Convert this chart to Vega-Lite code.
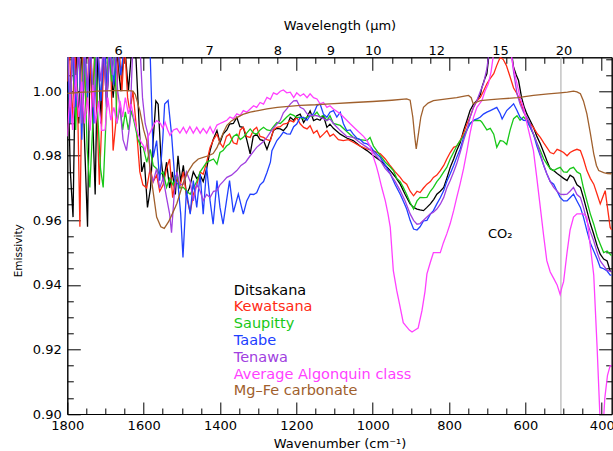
{
"$schema": "https://vega.github.io/schema/vega-lite/v6.json",
"width": 544.4, "height": 356.7,
"autosize": {"type": "none"},
"padding": {"left": 67.3, "top": 57.3, "right": 1.3, "bottom": 37},
"background": "white",
"config": {
  "view": {"stroke": "black", "strokeWidth": 1},
  "font": "DejaVu Sans",
  "axis": {"domainColor": "black", "tickColor": "black", "labelColor": "black", "titleColor": "black", "labelFont": "DejaVu Sans", "titleFont": "DejaVu Sans", "labelFontSize": 13, "titleFontSize": 13, "titleFontWeight": "normal", "grid": false, "tickWidth": 1, "domainWidth": 1, "labelFlush": false, "labelOverlap": false}
},
"resolve": {"axis": {"x": "independent", "y": "independent"}},
"data": {"values": [
{"s":"Ditsakana","w":1800,"e":1.012},{"s":"Ditsakana","w":1792,"e":0.975},{"s":"Ditsakana","w":1785,"e":0.961},{"s":"Ditsakana","w":1778,"e":1.015},{"s":"Ditsakana","w":1770,"e":0.99},{"s":"Ditsakana","w":1762,"e":1.015},{"s":"Ditsakana","w":1755,"e":0.985},{"s":"Ditsakana","w":1747,"e":0.958},{"s":"Ditsakana","w":1740,"e":1.015},{"s":"Ditsakana","w":1733,"e":0.99},{"s":"Ditsakana","w":1727,"e":0.968},{"s":"Ditsakana","w":1720,"e":1.015},{"s":"Ditsakana","w":1712,"e":0.99},{"s":"Ditsakana","w":1705,"e":1.015},{"s":"Ditsakana","w":1697,"e":0.995},{"s":"Ditsakana","w":1690,"e":1.015},{"s":"Ditsakana","w":1680,"e":0.998},{"s":"Ditsakana","w":1670,"e":1.012},{"s":"Ditsakana","w":1660,"e":1.0},{"s":"Ditsakana","w":1650,"e":1.015},{"s":"Ditsakana","w":1640,"e":1.0},{"s":"Ditsakana","w":1630,"e":1.015},{"s":"Ditsakana","w":1620,"e":1.01},{"s":"Ditsakana","w":1612,"e":0.99},{"s":"Ditsakana","w":1605,"e":0.975},{"s":"Ditsakana","w":1598,"e":0.978},{"s":"Ditsakana","w":1590,"e":0.964},{"s":"Ditsakana","w":1582,"e":0.97},{"s":"Ditsakana","w":1575,"e":0.985},{"s":"Ditsakana","w":1568,"e":0.997},{"s":"Ditsakana","w":1562,"e":0.996},{"s":"Ditsakana","w":1555,"e":0.98},{"s":"Ditsakana","w":1548,"e":0.972},{"s":"Ditsakana","w":1540,"e":0.978},{"s":"Ditsakana","w":1532,"e":0.97},{"s":"Ditsakana","w":1525,"e":0.975},{"s":"Ditsakana","w":1517,"e":0.968},{"s":"Ditsakana","w":1510,"e":0.98},{"s":"Ditsakana","w":1503,"e":0.972},{"s":"Ditsakana","w":1496,"e":0.977},{"s":"Ditsakana","w":1488,"e":0.968},{"s":"Ditsakana","w":1480,"e":0.97},{"s":"Ditsakana","w":1470,"e":0.975},{"s":"Ditsakana","w":1461,"e":0.973},{"s":"Ditsakana","w":1452,"e":0.974},{"s":"Ditsakana","w":1444,"e":0.972},{"s":"Ditsakana","w":1435,"e":0.976},{"s":"Ditsakana","w":1426,"e":0.9816},{"s":"Ditsakana","w":1418,"e":0.985},{"s":"Ditsakana","w":1408,"e":0.9878},{"s":"Ditsakana","w":1400,"e":0.984},{"s":"Ditsakana","w":1392,"e":0.9867},{"s":"Ditsakana","w":1382,"e":0.988},{"s":"Ditsakana","w":1375,"e":0.9898},{"s":"Ditsakana","w":1365,"e":0.99},{"s":"Ditsakana","w":1356,"e":0.9919},{"s":"Ditsakana","w":1348,"e":0.989},{"s":"Ditsakana","w":1339,"e":0.9888},{"s":"Ditsakana","w":1330,"e":0.985},{"s":"Ditsakana","w":1321,"e":0.9806},{"s":"Ditsakana","w":1313,"e":0.986},{"s":"Ditsakana","w":1304,"e":0.9867},{"s":"Ditsakana","w":1295,"e":0.985},{"s":"Ditsakana","w":1286,"e":0.9847},{"s":"Ditsakana","w":1277,"e":0.982},{"s":"Ditsakana","w":1268,"e":0.985},{"s":"Ditsakana","w":1260,"e":0.9878},{"s":"Ditsakana","w":1251,"e":0.9885},{"s":"Ditsakana","w":1242,"e":0.9883},{"s":"Ditsakana","w":1234,"e":0.9878},{"s":"Ditsakana","w":1225,"e":0.989},{"s":"Ditsakana","w":1216,"e":0.9919},{"s":"Ditsakana","w":1207,"e":0.991},{"s":"Ditsakana","w":1199,"e":0.9924},{"s":"Ditsakana","w":1190,"e":0.9929},{"s":"Ditsakana","w":1181,"e":0.9903},{"s":"Ditsakana","w":1172,"e":0.992},{"s":"Ditsakana","w":1164,"e":0.9939},{"s":"Ditsakana","w":1155,"e":0.9909},{"s":"Ditsakana","w":1146,"e":0.9914},{"s":"Ditsakana","w":1138,"e":0.991},{"s":"Ditsakana","w":1129,"e":0.9924},{"s":"Ditsakana","w":1120,"e":0.9888},{"s":"Ditsakana","w":1112,"e":0.9898},{"s":"Ditsakana","w":1103,"e":0.9885},{"s":"Ditsakana","w":1085,"e":0.9867},{"s":"Ditsakana","w":1068,"e":0.9855},{"s":"Ditsakana","w":1051,"e":0.9847},{"s":"Ditsakana","w":1033,"e":0.983},{"s":"Ditsakana","w":1015,"e":0.9816},{"s":"Ditsakana","w":998,"e":0.98},{"s":"Ditsakana","w":980,"e":0.9785},{"s":"Ditsakana","w":967,"e":0.977},{"s":"Ditsakana","w":954,"e":0.9754},{"s":"Ditsakana","w":941,"e":0.9735},{"s":"Ditsakana","w":928,"e":0.9712},{"s":"Ditsakana","w":915,"e":0.968},{"s":"Ditsakana","w":902,"e":0.9651},{"s":"Ditsakana","w":893,"e":0.964},{"s":"Ditsakana","w":884,"e":0.9635},{"s":"Ditsakana","w":876,"e":0.9632},{"s":"Ditsakana","w":867,"e":0.963},{"s":"Ditsakana","w":858,"e":0.964},{"s":"Ditsakana","w":849,"e":0.9651},{"s":"Ditsakana","w":840,"e":0.9665},{"s":"Ditsakana","w":832,"e":0.9681},{"s":"Ditsakana","w":823,"e":0.969},{"s":"Ditsakana","w":814,"e":0.9702},{"s":"Ditsakana","w":806,"e":0.973},{"s":"Ditsakana","w":797,"e":0.9764},{"s":"Ditsakana","w":788,"e":0.979},{"s":"Ditsakana","w":780,"e":0.9816},{"s":"Ditsakana","w":771,"e":0.984},{"s":"Ditsakana","w":762,"e":0.9878},{"s":"Ditsakana","w":753,"e":0.991},{"s":"Ditsakana","w":745,"e":0.994},{"s":"Ditsakana","w":736,"e":0.996},{"s":"Ditsakana","w":727,"e":0.9971},{"s":"Ditsakana","w":718,"e":0.999},{"s":"Ditsakana","w":714,"e":1.0012},{"s":"Ditsakana","w":706,"e":1.004},{"s":"Ditsakana","w":701,"e":1.0054},{"s":"Ditsakana","w":692,"e":1.015},{"s":"Ditsakana","w":640,"e":1.015},{"s":"Ditsakana","w":631,"e":1.0074},{"s":"Ditsakana","w":624,"e":1.005},{"s":"Ditsakana","w":618,"e":1.0033},{"s":"Ditsakana","w":610,"e":0.998},{"s":"Ditsakana","w":603,"e":0.995},{"s":"Ditsakana","w":596,"e":0.9929},{"s":"Ditsakana","w":588,"e":0.991},{"s":"Ditsakana","w":579,"e":0.9888},{"s":"Ditsakana","w":570,"e":0.986},{"s":"Ditsakana","w":561,"e":0.9837},{"s":"Ditsakana","w":552,"e":0.981},{"s":"Ditsakana","w":544,"e":0.9785},{"s":"Ditsakana","w":535,"e":0.976},{"s":"Ditsakana","w":526,"e":0.9754},{"s":"Ditsakana","w":517,"e":0.9745},{"s":"Ditsakana","w":509,"e":0.9738},{"s":"Ditsakana","w":500,"e":0.973},{"s":"Ditsakana","w":491,"e":0.9723},{"s":"Ditsakana","w":483,"e":0.974},{"s":"Ditsakana","w":474,"e":0.9733},{"s":"Ditsakana","w":465,"e":0.971},{"s":"Ditsakana","w":456,"e":0.9702},{"s":"Ditsakana","w":448,"e":0.967},{"s":"Ditsakana","w":439,"e":0.963},{"s":"Ditsakana","w":430,"e":0.959},{"s":"Ditsakana","w":421,"e":0.9557},{"s":"Ditsakana","w":412,"e":0.952},{"s":"Ditsakana","w":404,"e":0.9495},{"s":"Ditsakana","w":395,"e":0.948},{"s":"Ditsakana","w":386,"e":0.9474},{"s":"Ditsakana","w":378,"e":0.9443},{"s":"Ditsakana","w":374,"e":0.944},
{"s":"Kewatsana","w":1800,"e":1.003},{"s":"Kewatsana","w":1795,"e":1.015},{"s":"Kewatsana","w":1787,"e":0.99},{"s":"Kewatsana","w":1780,"e":1.015},{"s":"Kewatsana","w":1772,"e":0.99},{"s":"Kewatsana","w":1767,"e":0.958},{"s":"Kewatsana","w":1760,"e":1.015},{"s":"Kewatsana","w":1750,"e":0.993},{"s":"Kewatsana","w":1742,"e":1.015},{"s":"Kewatsana","w":1735,"e":0.995},{"s":"Kewatsana","w":1727,"e":1.015},{"s":"Kewatsana","w":1720,"e":0.985},{"s":"Kewatsana","w":1716,"e":0.971},{"s":"Kewatsana","w":1710,"e":0.99},{"s":"Kewatsana","w":1703,"e":1.015},{"s":"Kewatsana","w":1695,"e":1.0},{"s":"Kewatsana","w":1688,"e":1.015},{"s":"Kewatsana","w":1680,"e":0.9816},{"s":"Kewatsana","w":1673,"e":0.99},{"s":"Kewatsana","w":1665,"e":1.015},{"s":"Kewatsana","w":1657,"e":1.0},{"s":"Kewatsana","w":1650,"e":1.015},{"s":"Kewatsana","w":1642,"e":0.998},{"s":"Kewatsana","w":1636,"e":0.9936},{"s":"Kewatsana","w":1628,"e":1.0},{"s":"Kewatsana","w":1620,"e":0.99},{"s":"Kewatsana","w":1610,"e":0.975},{"s":"Kewatsana","w":1602,"e":0.971},{"s":"Kewatsana","w":1592,"e":0.97},{"s":"Kewatsana","w":1583,"e":0.976},{"s":"Kewatsana","w":1575,"e":0.972},{"s":"Kewatsana","w":1566,"e":0.974},{"s":"Kewatsana","w":1558,"e":0.969},{"s":"Kewatsana","w":1549,"e":0.971},{"s":"Kewatsana","w":1540,"e":0.976},{"s":"Kewatsana","w":1532,"e":0.979},{"s":"Kewatsana","w":1524,"e":0.967},{"s":"Kewatsana","w":1515,"e":0.974},{"s":"Kewatsana","w":1506,"e":0.97},{"s":"Kewatsana","w":1496,"e":0.975},{"s":"Kewatsana","w":1487,"e":0.967},{"s":"Kewatsana","w":1478,"e":0.9624},{"s":"Kewatsana","w":1470,"e":0.968},{"s":"Kewatsana","w":1461,"e":0.971},{"s":"Kewatsana","w":1452,"e":0.975},{"s":"Kewatsana","w":1444,"e":0.9743},{"s":"Kewatsana","w":1435,"e":0.978},{"s":"Kewatsana","w":1426,"e":0.9826},{"s":"Kewatsana","w":1417,"e":0.985},{"s":"Kewatsana","w":1408,"e":0.9867},{"s":"Kewatsana","w":1400,"e":0.984},{"s":"Kewatsana","w":1392,"e":0.9826},{"s":"Kewatsana","w":1383,"e":0.986},{"s":"Kewatsana","w":1375,"e":0.9867},{"s":"Kewatsana","w":1365,"e":0.984},{"s":"Kewatsana","w":1356,"e":0.9836},{"s":"Kewatsana","w":1347,"e":0.988},{"s":"Kewatsana","w":1339,"e":0.9888},{"s":"Kewatsana","w":1330,"e":0.986},{"s":"Kewatsana","w":1321,"e":0.9857},{"s":"Kewatsana","w":1312,"e":0.988},{"s":"Kewatsana","w":1304,"e":0.9888},{"s":"Kewatsana","w":1295,"e":0.986},{"s":"Kewatsana","w":1286,"e":0.9857},{"s":"Kewatsana","w":1277,"e":0.985},{"s":"Kewatsana","w":1268,"e":0.9847},{"s":"Kewatsana","w":1260,"e":0.988},{"s":"Kewatsana","w":1251,"e":0.9888},{"s":"Kewatsana","w":1242,"e":0.989},{"s":"Kewatsana","w":1234,"e":0.9898},{"s":"Kewatsana","w":1225,"e":0.99},{"s":"Kewatsana","w":1216,"e":0.9909},{"s":"Kewatsana","w":1207,"e":0.9905},{"s":"Kewatsana","w":1199,"e":0.9919},{"s":"Kewatsana","w":1190,"e":0.9899},{"s":"Kewatsana","w":1181,"e":0.9888},{"s":"Kewatsana","w":1172,"e":0.9883},{"s":"Kewatsana","w":1164,"e":0.9893},{"s":"Kewatsana","w":1155,"e":0.987},{"s":"Kewatsana","w":1146,"e":0.9878},{"s":"Kewatsana","w":1138,"e":0.9857},{"s":"Kewatsana","w":1129,"e":0.9867},{"s":"Kewatsana","w":1120,"e":0.9878},{"s":"Kewatsana","w":1112,"e":0.986},{"s":"Kewatsana","w":1103,"e":0.9867},{"s":"Kewatsana","w":1090,"e":0.985},{"s":"Kewatsana","w":1077,"e":0.9847},{"s":"Kewatsana","w":1064,"e":0.985},{"s":"Kewatsana","w":1051,"e":0.9842},{"s":"Kewatsana","w":1033,"e":0.983},{"s":"Kewatsana","w":1015,"e":0.9821},{"s":"Kewatsana","w":998,"e":0.9815},{"s":"Kewatsana","w":980,"e":0.9806},{"s":"Kewatsana","w":967,"e":0.979},{"s":"Kewatsana","w":954,"e":0.9769},{"s":"Kewatsana","w":941,"e":0.975},{"s":"Kewatsana","w":928,"e":0.9733},{"s":"Kewatsana","w":920,"e":0.972},{"s":"Kewatsana","w":911,"e":0.9712},{"s":"Kewatsana","w":902,"e":0.969},{"s":"Kewatsana","w":893,"e":0.9676},{"s":"Kewatsana","w":884,"e":0.969},{"s":"Kewatsana","w":876,"e":0.9686},{"s":"Kewatsana","w":867,"e":0.97},{"s":"Kewatsana","w":858,"e":0.9712},{"s":"Kewatsana","w":849,"e":0.972},{"s":"Kewatsana","w":841,"e":0.9733},{"s":"Kewatsana","w":832,"e":0.974},{"s":"Kewatsana","w":823,"e":0.9754},{"s":"Kewatsana","w":814,"e":0.977},{"s":"Kewatsana","w":806,"e":0.979},{"s":"Kewatsana","w":797,"e":0.981},{"s":"Kewatsana","w":788,"e":0.9826},{"s":"Kewatsana","w":780,"e":0.983},{"s":"Kewatsana","w":771,"e":0.9847},{"s":"Kewatsana","w":762,"e":0.987},{"s":"Kewatsana","w":753,"e":0.9899},{"s":"Kewatsana","w":745,"e":0.992},{"s":"Kewatsana","w":736,"e":0.995},{"s":"Kewatsana","w":727,"e":0.997},{"s":"Kewatsana","w":718,"e":0.9981},{"s":"Kewatsana","w":710,"e":1.0},{"s":"Kewatsana","w":701,"e":1.0023},{"s":"Kewatsana","w":692,"e":1.004},{"s":"Kewatsana","w":683,"e":1.0054},{"s":"Kewatsana","w":675,"e":1.008},{"s":"Kewatsana","w":666,"e":1.0105},{"s":"Kewatsana","w":658,"e":1.0098},{"s":"Kewatsana","w":650,"e":1.008},{"s":"Kewatsana","w":640,"e":1.0044},{"s":"Kewatsana","w":631,"e":1.001},{"s":"Kewatsana","w":622,"e":0.9992},{"s":"Kewatsana","w":614,"e":0.997},{"s":"Kewatsana","w":605,"e":0.994},{"s":"Kewatsana","w":596,"e":0.991},{"s":"Kewatsana","w":588,"e":0.99},{"s":"Kewatsana","w":579,"e":0.9888},{"s":"Kewatsana","w":570,"e":0.987},{"s":"Kewatsana","w":561,"e":0.9857},{"s":"Kewatsana","w":552,"e":0.984},{"s":"Kewatsana","w":544,"e":0.9826},{"s":"Kewatsana","w":535,"e":0.981},{"s":"Kewatsana","w":526,"e":0.9806},{"s":"Kewatsana","w":517,"e":0.982},{"s":"Kewatsana","w":509,"e":0.9816},{"s":"Kewatsana","w":500,"e":0.981},{"s":"Kewatsana","w":491,"e":0.98},{"s":"Kewatsana","w":483,"e":0.981},{"s":"Kewatsana","w":474,"e":0.9816},{"s":"Kewatsana","w":465,"e":0.982},{"s":"Kewatsana","w":456,"e":0.9816},{"s":"Kewatsana","w":448,"e":0.979},{"s":"Kewatsana","w":439,"e":0.9754},{"s":"Kewatsana","w":430,"e":0.973},{"s":"Kewatsana","w":421,"e":0.9712},{"s":"Kewatsana","w":412,"e":0.968},{"s":"Kewatsana","w":404,"e":0.9651},{"s":"Kewatsana","w":398,"e":0.967},{"s":"Kewatsana","w":391,"e":0.9692},{"s":"Kewatsana","w":384,"e":0.963},{"s":"Kewatsana","w":378,"e":0.9578},{"s":"Kewatsana","w":374,"e":0.957},
{"s":"Saupitty","w":1800,"e":1.015},{"s":"Saupitty","w":1793,"e":0.99},{"s":"Saupitty","w":1786,"e":1.015},{"s":"Saupitty","w":1778,"e":0.988},{"s":"Saupitty","w":1771,"e":1.015},{"s":"Saupitty","w":1763,"e":0.995},{"s":"Saupitty","w":1756,"e":1.015},{"s":"Saupitty","w":1748,"e":0.982},{"s":"Saupitty","w":1741,"e":0.9702},{"s":"Saupitty","w":1734,"e":0.988},{"s":"Saupitty","w":1727,"e":1.015},{"s":"Saupitty","w":1720,"e":0.992},{"s":"Saupitty","w":1713,"e":0.976},{"s":"Saupitty","w":1706,"e":0.9702},{"s":"Saupitty","w":1699,"e":0.99},{"s":"Saupitty","w":1692,"e":1.015},{"s":"Saupitty","w":1684,"e":1.003},{"s":"Saupitty","w":1677,"e":1.015},{"s":"Saupitty","w":1670,"e":0.99},{"s":"Saupitty","w":1662,"e":0.995},{"s":"Saupitty","w":1655,"e":0.988},{"s":"Saupitty","w":1648,"e":0.9936},{"s":"Saupitty","w":1640,"e":0.988},{"s":"Saupitty","w":1632,"e":0.994},{"s":"Saupitty","w":1624,"e":0.99},{"s":"Saupitty","w":1615,"e":0.985},{"s":"Saupitty","w":1608,"e":0.983},{"s":"Saupitty","w":1601,"e":0.9826},{"s":"Saupitty","w":1592,"e":0.978},{"s":"Saupitty","w":1583,"e":0.982},{"s":"Saupitty","w":1575,"e":0.977},{"s":"Saupitty","w":1566,"e":0.976},{"s":"Saupitty","w":1558,"e":0.974},{"s":"Saupitty","w":1549,"e":0.975},{"s":"Saupitty","w":1540,"e":0.9702},{"s":"Saupitty","w":1532,"e":0.973},{"s":"Saupitty","w":1523,"e":0.971},{"s":"Saupitty","w":1513,"e":0.9743},{"s":"Saupitty","w":1505,"e":0.97},{"s":"Saupitty","w":1496,"e":0.9702},{"s":"Saupitty","w":1487,"e":0.969},{"s":"Saupitty","w":1478,"e":0.9681},{"s":"Saupitty","w":1470,"e":0.97},{"s":"Saupitty","w":1461,"e":0.972},{"s":"Saupitty","w":1452,"e":0.975},{"s":"Saupitty","w":1444,"e":0.9764},{"s":"Saupitty","w":1435,"e":0.978},{"s":"Saupitty","w":1426,"e":0.9785},{"s":"Saupitty","w":1417,"e":0.979},{"s":"Saupitty","w":1408,"e":0.9774},{"s":"Saupitty","w":1400,"e":0.981},{"s":"Saupitty","w":1392,"e":0.9816},{"s":"Saupitty","w":1383,"e":0.983},{"s":"Saupitty","w":1375,"e":0.9837},{"s":"Saupitty","w":1365,"e":0.986},{"s":"Saupitty","w":1356,"e":0.9867},{"s":"Saupitty","w":1347,"e":0.985},{"s":"Saupitty","w":1339,"e":0.9857},{"s":"Saupitty","w":1330,"e":0.987},{"s":"Saupitty","w":1321,"e":0.9883},{"s":"Saupitty","w":1312,"e":0.987},{"s":"Saupitty","w":1304,"e":0.9867},{"s":"Saupitty","w":1295,"e":0.988},{"s":"Saupitty","w":1286,"e":0.9888},{"s":"Saupitty","w":1277,"e":0.988},{"s":"Saupitty","w":1268,"e":0.9878},{"s":"Saupitty","w":1260,"e":0.989},{"s":"Saupitty","w":1251,"e":0.9903},{"s":"Saupitty","w":1242,"e":0.99},{"s":"Saupitty","w":1234,"e":0.9909},{"s":"Saupitty","w":1225,"e":0.992},{"s":"Saupitty","w":1216,"e":0.9929},{"s":"Saupitty","w":1207,"e":0.9925},{"s":"Saupitty","w":1199,"e":0.9919},{"s":"Saupitty","w":1190,"e":0.9919},{"s":"Saupitty","w":1181,"e":0.9914},{"s":"Saupitty","w":1172,"e":0.992},{"s":"Saupitty","w":1164,"e":0.9924},{"s":"Saupitty","w":1155,"e":0.9923},{"s":"Saupitty","w":1146,"e":0.9935},{"s":"Saupitty","w":1138,"e":0.992},{"s":"Saupitty","w":1129,"e":0.9925},{"s":"Saupitty","w":1120,"e":0.9909},{"s":"Saupitty","w":1112,"e":0.9924},{"s":"Saupitty","w":1103,"e":0.99},{"s":"Saupitty","w":1085,"e":0.9894},{"s":"Saupitty","w":1068,"e":0.9875},{"s":"Saupitty","w":1051,"e":0.9857},{"s":"Saupitty","w":1033,"e":0.985},{"s":"Saupitty","w":1015,"e":0.9847},{"s":"Saupitty","w":1007,"e":0.9857},{"s":"Saupitty","w":998,"e":0.983},{"s":"Saupitty","w":989,"e":0.9815},{"s":"Saupitty","w":980,"e":0.98},{"s":"Saupitty","w":967,"e":0.978},{"s":"Saupitty","w":954,"e":0.9765},{"s":"Saupitty","w":946,"e":0.9754},{"s":"Saupitty","w":937,"e":0.973},{"s":"Saupitty","w":928,"e":0.972},{"s":"Saupitty","w":920,"e":0.9702},{"s":"Saupitty","w":911,"e":0.968},{"s":"Saupitty","w":902,"e":0.9655},{"s":"Saupitty","w":893,"e":0.9635},{"s":"Saupitty","w":884,"e":0.966},{"s":"Saupitty","w":876,"e":0.9671},{"s":"Saupitty","w":867,"e":0.967},{"s":"Saupitty","w":858,"e":0.9671},{"s":"Saupitty","w":849,"e":0.969},{"s":"Saupitty","w":841,"e":0.9702},{"s":"Saupitty","w":832,"e":0.972},{"s":"Saupitty","w":823,"e":0.9733},{"s":"Saupitty","w":814,"e":0.975},{"s":"Saupitty","w":806,"e":0.9764},{"s":"Saupitty","w":797,"e":0.979},{"s":"Saupitty","w":788,"e":0.9811},{"s":"Saupitty","w":780,"e":0.983},{"s":"Saupitty","w":771,"e":0.9847},{"s":"Saupitty","w":762,"e":0.986},{"s":"Saupitty","w":753,"e":0.9883},{"s":"Saupitty","w":745,"e":0.99},{"s":"Saupitty","w":736,"e":0.9909},{"s":"Saupitty","w":727,"e":0.991},{"s":"Saupitty","w":718,"e":0.9909},{"s":"Saupitty","w":714,"e":0.9904},{"s":"Saupitty","w":701,"e":0.988},{"s":"Saupitty","w":692,"e":0.9885},{"s":"Saupitty","w":683,"e":0.9867},{"s":"Saupitty","w":675,"e":0.9826},{"s":"Saupitty","w":666,"e":0.9847},{"s":"Saupitty","w":658,"e":0.9845},{"s":"Saupitty","w":649,"e":0.9835},{"s":"Saupitty","w":640,"e":0.988},{"s":"Saupitty","w":631,"e":0.9915},{"s":"Saupitty","w":622,"e":0.9924},{"s":"Saupitty","w":614,"e":0.991},{"s":"Saupitty","w":605,"e":0.992},{"s":"Saupitty","w":596,"e":0.9909},{"s":"Saupitty","w":588,"e":0.989},{"s":"Saupitty","w":579,"e":0.9867},{"s":"Saupitty","w":570,"e":0.984},{"s":"Saupitty","w":561,"e":0.9816},{"s":"Saupitty","w":552,"e":0.979},{"s":"Saupitty","w":544,"e":0.9775},{"s":"Saupitty","w":535,"e":0.976},{"s":"Saupitty","w":526,"e":0.9754},{"s":"Saupitty","w":517,"e":0.976},{"s":"Saupitty","w":509,"e":0.9764},{"s":"Saupitty","w":500,"e":0.975},{"s":"Saupitty","w":491,"e":0.9749},{"s":"Saupitty","w":483,"e":0.976},{"s":"Saupitty","w":474,"e":0.9764},{"s":"Saupitty","w":465,"e":0.975},{"s":"Saupitty","w":456,"e":0.9744},{"s":"Saupitty","w":448,"e":0.97},{"s":"Saupitty","w":439,"e":0.966},{"s":"Saupitty","w":430,"e":0.962},{"s":"Saupitty","w":421,"e":0.9588},{"s":"Saupitty","w":412,"e":0.955},{"s":"Saupitty","w":404,"e":0.9526},{"s":"Saupitty","w":395,"e":0.95},{"s":"Saupitty","w":386,"e":0.9505},{"s":"Saupitty","w":378,"e":0.9495},{"s":"Saupitty","w":374,"e":0.949},
{"s":"Taabe","w":1800,"e":1.015},{"s":"Taabe","w":1793,"e":0.99},{"s":"Taabe","w":1786,"e":1.015},{"s":"Taabe","w":1778,"e":0.995},{"s":"Taabe","w":1770,"e":1.015},{"s":"Taabe","w":1762,"e":0.985},{"s":"Taabe","w":1755,"e":1.015},{"s":"Taabe","w":1747,"e":0.998},{"s":"Taabe","w":1740,"e":1.015},{"s":"Taabe","w":1730,"e":0.99},{"s":"Taabe","w":1722,"e":1.015},{"s":"Taabe","w":1712,"e":0.997},{"s":"Taabe","w":1703,"e":1.015},{"s":"Taabe","w":1695,"e":1.0},{"s":"Taabe","w":1687,"e":1.015},{"s":"Taabe","w":1678,"e":1.002},{"s":"Taabe","w":1670,"e":1.015},{"s":"Taabe","w":1660,"e":1.005},{"s":"Taabe","w":1650,"e":1.015},{"s":"Taabe","w":1600,"e":1.015},{"s":"Taabe","w":1583,"e":1.012},{"s":"Taabe","w":1575,"e":0.9795},{"s":"Taabe","w":1566,"e":0.9847},{"s":"Taabe","w":1558,"e":0.9723},{"s":"Taabe","w":1550,"e":0.985},{"s":"Taabe","w":1545,"e":0.996},{"s":"Taabe","w":1536,"e":0.9971},{"s":"Taabe","w":1527,"e":0.9867},{"s":"Taabe","w":1518,"e":0.9723},{"s":"Taabe","w":1510,"e":0.9712},{"s":"Taabe","w":1503,"e":0.962},{"s":"Taabe","w":1497,"e":0.9485},{"s":"Taabe","w":1488,"e":0.9692},{"s":"Taabe","w":1478,"e":0.9619},{"s":"Taabe","w":1470,"e":0.9723},{"s":"Taabe","w":1461,"e":0.964},{"s":"Taabe","w":1452,"e":0.9743},{"s":"Taabe","w":1444,"e":0.9619},{"s":"Taabe","w":1435,"e":0.9764},{"s":"Taabe","w":1426,"e":0.9661},{"s":"Taabe","w":1418,"e":0.9588},{"s":"Taabe","w":1408,"e":0.9723},{"s":"Taabe","w":1400,"e":0.964},{"s":"Taabe","w":1392,"e":0.9588},{"s":"Taabe","w":1383,"e":0.966},{"s":"Taabe","w":1375,"e":0.9723},{"s":"Taabe","w":1365,"e":0.9625},{"s":"Taabe","w":1352,"e":0.9681},{"s":"Taabe","w":1339,"e":0.9619},{"s":"Taabe","w":1330,"e":0.966},{"s":"Taabe","w":1321,"e":0.9681},{"s":"Taabe","w":1312,"e":0.968},{"s":"Taabe","w":1304,"e":0.9685},{"s":"Taabe","w":1295,"e":0.971},{"s":"Taabe","w":1286,"e":0.972},{"s":"Taabe","w":1277,"e":0.9748},{"s":"Taabe","w":1268,"e":0.978},{"s":"Taabe","w":1264,"e":0.9816},{"s":"Taabe","w":1251,"e":0.9847},{"s":"Taabe","w":1242,"e":0.986},{"s":"Taabe","w":1234,"e":0.9873},{"s":"Taabe","w":1225,"e":0.9868},{"s":"Taabe","w":1216,"e":0.9867},{"s":"Taabe","w":1207,"e":0.989},{"s":"Taabe","w":1199,"e":0.9898},{"s":"Taabe","w":1190,"e":0.9919},{"s":"Taabe","w":1181,"e":0.9919},{"s":"Taabe","w":1172,"e":0.991},{"s":"Taabe","w":1164,"e":0.9924},{"s":"Taabe","w":1155,"e":0.993},{"s":"Taabe","w":1146,"e":0.9955},{"s":"Taabe","w":1138,"e":0.9961},{"s":"Taabe","w":1129,"e":0.9929},{"s":"Taabe","w":1120,"e":0.9919},{"s":"Taabe","w":1112,"e":0.9935},{"s":"Taabe","w":1103,"e":0.994},{"s":"Taabe","w":1094,"e":0.992},{"s":"Taabe","w":1085,"e":0.9935},{"s":"Taabe","w":1077,"e":0.99},{"s":"Taabe","w":1068,"e":0.9878},{"s":"Taabe","w":1059,"e":0.988},{"s":"Taabe","w":1051,"e":0.9867},{"s":"Taabe","w":1042,"e":0.9855},{"s":"Taabe","w":1033,"e":0.985},{"s":"Taabe","w":1024,"e":0.984},{"s":"Taabe","w":1015,"e":0.9837},{"s":"Taabe","w":1007,"e":0.983},{"s":"Taabe","w":998,"e":0.9816},{"s":"Taabe","w":989,"e":0.9805},{"s":"Taabe","w":980,"e":0.9795},{"s":"Taabe","w":967,"e":0.977},{"s":"Taabe","w":954,"e":0.9744},{"s":"Taabe","w":941,"e":0.971},{"s":"Taabe","w":928,"e":0.9681},{"s":"Taabe","w":920,"e":0.966},{"s":"Taabe","w":911,"e":0.9635},{"s":"Taabe","w":902,"e":0.96},{"s":"Taabe","w":893,"e":0.9573},{"s":"Taabe","w":884,"e":0.957},{"s":"Taabe","w":876,"e":0.958},{"s":"Taabe","w":867,"e":0.9598},{"s":"Taabe","w":858,"e":0.96},{"s":"Taabe","w":849,"e":0.9619},{"s":"Taabe","w":841,"e":0.963},{"s":"Taabe","w":832,"e":0.9651},{"s":"Taabe","w":823,"e":0.967},{"s":"Taabe","w":814,"e":0.9692},{"s":"Taabe","w":806,"e":0.972},{"s":"Taabe","w":797,"e":0.9744},{"s":"Taabe","w":788,"e":0.977},{"s":"Taabe","w":780,"e":0.9795},{"s":"Taabe","w":771,"e":0.982},{"s":"Taabe","w":762,"e":0.9857},{"s":"Taabe","w":753,"e":0.988},{"s":"Taabe","w":745,"e":0.9899},{"s":"Taabe","w":736,"e":0.991},{"s":"Taabe","w":727,"e":0.9914},{"s":"Taabe","w":718,"e":0.992},{"s":"Taabe","w":710,"e":0.9929},{"s":"Taabe","w":701,"e":0.9935},{"s":"Taabe","w":692,"e":0.994},{"s":"Taabe","w":683,"e":0.9945},{"s":"Taabe","w":675,"e":0.995},{"s":"Taabe","w":666,"e":0.993},{"s":"Taabe","w":661,"e":0.9914},{"s":"Taabe","w":649,"e":0.994},{"s":"Taabe","w":640,"e":0.995},{"s":"Taabe","w":631,"e":0.9961},{"s":"Taabe","w":622,"e":0.994},{"s":"Taabe","w":614,"e":0.9919},{"s":"Taabe","w":605,"e":0.991},{"s":"Taabe","w":596,"e":0.9909},{"s":"Taabe","w":588,"e":0.989},{"s":"Taabe","w":579,"e":0.9867},{"s":"Taabe","w":570,"e":0.983},{"s":"Taabe","w":561,"e":0.98},{"s":"Taabe","w":552,"e":0.977},{"s":"Taabe","w":544,"e":0.9744},{"s":"Taabe","w":535,"e":0.972},{"s":"Taabe","w":526,"e":0.9712},{"s":"Taabe","w":517,"e":0.969},{"s":"Taabe","w":509,"e":0.9671},{"s":"Taabe","w":500,"e":0.966},{"s":"Taabe","w":491,"e":0.966},{"s":"Taabe","w":483,"e":0.967},{"s":"Taabe","w":474,"e":0.9681},{"s":"Taabe","w":465,"e":0.966},{"s":"Taabe","w":456,"e":0.964},{"s":"Taabe","w":448,"e":0.961},{"s":"Taabe","w":439,"e":0.9568},{"s":"Taabe","w":430,"e":0.953},{"s":"Taabe","w":421,"e":0.9505},{"s":"Taabe","w":412,"e":0.948},{"s":"Taabe","w":404,"e":0.9454},{"s":"Taabe","w":395,"e":0.945},{"s":"Taabe","w":386,"e":0.9443},{"s":"Taabe","w":378,"e":0.943},{"s":"Taabe","w":374,"e":0.943},
{"s":"Tenawa","w":1800,"e":1.015},{"s":"Tenawa","w":1792,"e":0.995},{"s":"Tenawa","w":1785,"e":1.015},{"s":"Tenawa","w":1777,"e":1.0},{"s":"Tenawa","w":1770,"e":1.015},{"s":"Tenawa","w":1762,"e":0.99},{"s":"Tenawa","w":1755,"e":1.015},{"s":"Tenawa","w":1747,"e":1.0},{"s":"Tenawa","w":1740,"e":1.015},{"s":"Tenawa","w":1730,"e":0.995},{"s":"Tenawa","w":1722,"e":1.015},{"s":"Tenawa","w":1712,"e":1.003},{"s":"Tenawa","w":1705,"e":1.015},{"s":"Tenawa","w":1697,"e":0.995},{"s":"Tenawa","w":1690,"e":1.015},{"s":"Tenawa","w":1682,"e":1.005},{"s":"Tenawa","w":1675,"e":1.015},{"s":"Tenawa","w":1668,"e":1.0},{"s":"Tenawa","w":1662,"e":0.995},{"s":"Tenawa","w":1654,"e":0.985},{"s":"Tenawa","w":1645,"e":0.9816},{"s":"Tenawa","w":1636,"e":0.99},{"s":"Tenawa","w":1628,"e":1.015},{"s":"Tenawa","w":1610,"e":1.015},{"s":"Tenawa","w":1603,"e":0.998},{"s":"Tenawa","w":1596,"e":0.99},{"s":"Tenawa","w":1589,"e":0.9867},{"s":"Tenawa","w":1583,"e":0.975},{"s":"Tenawa","w":1575,"e":0.972},{"s":"Tenawa","w":1566,"e":0.976},{"s":"Tenawa","w":1558,"e":0.97},{"s":"Tenawa","w":1549,"e":0.973},{"s":"Tenawa","w":1540,"e":0.967},{"s":"Tenawa","w":1532,"e":0.962},{"s":"Tenawa","w":1527,"e":0.9562},{"s":"Tenawa","w":1520,"e":0.968},{"s":"Tenawa","w":1513,"e":0.975},{"s":"Tenawa","w":1505,"e":0.971},{"s":"Tenawa","w":1496,"e":0.9712},{"s":"Tenawa","w":1488,"e":0.975},{"s":"Tenawa","w":1478,"e":0.972},{"s":"Tenawa","w":1470,"e":0.966},{"s":"Tenawa","w":1461,"e":0.9712},{"s":"Tenawa","w":1452,"e":0.969},{"s":"Tenawa","w":1444,"e":0.9661},{"s":"Tenawa","w":1435,"e":0.968},{"s":"Tenawa","w":1426,"e":0.9671},{"s":"Tenawa","w":1417,"e":0.969},{"s":"Tenawa","w":1408,"e":0.9692},{"s":"Tenawa","w":1400,"e":0.971},{"s":"Tenawa","w":1392,"e":0.972},{"s":"Tenawa","w":1382,"e":0.9733},{"s":"Tenawa","w":1370,"e":0.974},{"s":"Tenawa","w":1356,"e":0.9754},{"s":"Tenawa","w":1345,"e":0.977},{"s":"Tenawa","w":1333,"e":0.978},{"s":"Tenawa","w":1321,"e":0.98},{"s":"Tenawa","w":1304,"e":0.9826},{"s":"Tenawa","w":1290,"e":0.984},{"s":"Tenawa","w":1277,"e":0.9857},{"s":"Tenawa","w":1264,"e":0.988},{"s":"Tenawa","w":1251,"e":0.9898},{"s":"Tenawa","w":1242,"e":0.991},{"s":"Tenawa","w":1234,"e":0.9933},{"s":"Tenawa","w":1225,"e":0.9945},{"s":"Tenawa","w":1216,"e":0.996},{"s":"Tenawa","w":1207,"e":0.997},{"s":"Tenawa","w":1199,"e":0.9971},{"s":"Tenawa","w":1190,"e":0.995},{"s":"Tenawa","w":1181,"e":0.9945},{"s":"Tenawa","w":1172,"e":0.993},{"s":"Tenawa","w":1164,"e":0.9924},{"s":"Tenawa","w":1155,"e":0.9925},{"s":"Tenawa","w":1146,"e":0.9924},{"s":"Tenawa","w":1138,"e":0.992},{"s":"Tenawa","w":1129,"e":0.9915},{"s":"Tenawa","w":1120,"e":0.9909},{"s":"Tenawa","w":1112,"e":0.9914},{"s":"Tenawa","w":1103,"e":0.99},{"s":"Tenawa","w":1085,"e":0.9878},{"s":"Tenawa","w":1068,"e":0.986},{"s":"Tenawa","w":1051,"e":0.9857},{"s":"Tenawa","w":1033,"e":0.984},{"s":"Tenawa","w":1015,"e":0.9826},{"s":"Tenawa","w":998,"e":0.981},{"s":"Tenawa","w":980,"e":0.9785},{"s":"Tenawa","w":967,"e":0.976},{"s":"Tenawa","w":954,"e":0.9743},{"s":"Tenawa","w":941,"e":0.972},{"s":"Tenawa","w":928,"e":0.9692},{"s":"Tenawa","w":915,"e":0.966},{"s":"Tenawa","w":902,"e":0.962},{"s":"Tenawa","w":893,"e":0.96},{"s":"Tenawa","w":884,"e":0.9588},{"s":"Tenawa","w":876,"e":0.959},{"s":"Tenawa","w":867,"e":0.96},{"s":"Tenawa","w":858,"e":0.961},{"s":"Tenawa","w":849,"e":0.962},{"s":"Tenawa","w":841,"e":0.9625},{"s":"Tenawa","w":832,"e":0.9635},{"s":"Tenawa","w":823,"e":0.965},{"s":"Tenawa","w":814,"e":0.9671},{"s":"Tenawa","w":806,"e":0.97},{"s":"Tenawa","w":797,"e":0.9723},{"s":"Tenawa","w":788,"e":0.975},{"s":"Tenawa","w":780,"e":0.9775},{"s":"Tenawa","w":771,"e":0.981},{"s":"Tenawa","w":762,"e":0.9847},{"s":"Tenawa","w":753,"e":0.988},{"s":"Tenawa","w":745,"e":0.9919},{"s":"Tenawa","w":736,"e":0.995},{"s":"Tenawa","w":727,"e":0.9971},{"s":"Tenawa","w":718,"e":1.0},{"s":"Tenawa","w":710,"e":1.0023},{"s":"Tenawa","w":701,"e":1.007},{"s":"Tenawa","w":692,"e":1.015},{"s":"Tenawa","w":640,"e":1.015},{"s":"Tenawa","w":631,"e":1.006},{"s":"Tenawa","w":622,"e":0.9992},{"s":"Tenawa","w":614,"e":0.996},{"s":"Tenawa","w":605,"e":0.9935},{"s":"Tenawa","w":596,"e":0.9919},{"s":"Tenawa","w":588,"e":0.99},{"s":"Tenawa","w":579,"e":0.9867},{"s":"Tenawa","w":570,"e":0.984},{"s":"Tenawa","w":561,"e":0.9806},{"s":"Tenawa","w":552,"e":0.977},{"s":"Tenawa","w":544,"e":0.9744},{"s":"Tenawa","w":535,"e":0.972},{"s":"Tenawa","w":526,"e":0.9702},{"s":"Tenawa","w":517,"e":0.969},{"s":"Tenawa","w":509,"e":0.9681},{"s":"Tenawa","w":500,"e":0.968},{"s":"Tenawa","w":491,"e":0.9681},{"s":"Tenawa","w":483,"e":0.969},{"s":"Tenawa","w":474,"e":0.9702},{"s":"Tenawa","w":465,"e":0.968},{"s":"Tenawa","w":456,"e":0.9671},{"s":"Tenawa","w":448,"e":0.964},{"s":"Tenawa","w":439,"e":0.9598},{"s":"Tenawa","w":430,"e":0.9565},{"s":"Tenawa","w":421,"e":0.9536},{"s":"Tenawa","w":412,"e":0.95},{"s":"Tenawa","w":404,"e":0.9474},{"s":"Tenawa","w":395,"e":0.946},{"s":"Tenawa","w":386,"e":0.9445},{"s":"Tenawa","w":378,"e":0.9443},{"s":"Tenawa","w":374,"e":0.944},
{"s":"Average Algonquin class","w":1800,"e":0.986},{"s":"Average Algonquin class","w":1793,"e":0.9995},{"s":"Average Algonquin class","w":1786,"e":0.988},{"s":"Average Algonquin class","w":1778,"e":1.005},{"s":"Average Algonquin class","w":1770,"e":0.992},{"s":"Average Algonquin class","w":1762,"e":1.003},{"s":"Average Algonquin class","w":1755,"e":0.99},{"s":"Average Algonquin class","w":1747,"e":0.998},{"s":"Average Algonquin class","w":1740,"e":0.9878},{"s":"Average Algonquin class","w":1733,"e":1.002},{"s":"Average Algonquin class","w":1726,"e":0.99},{"s":"Average Algonquin class","w":1718,"e":0.997},{"s":"Average Algonquin class","w":1710,"e":0.9878},{"s":"Average Algonquin class","w":1701,"e":0.988},{"s":"Average Algonquin class","w":1694,"e":0.998},{"s":"Average Algonquin class","w":1686,"e":0.991},{"s":"Average Algonquin class","w":1678,"e":0.995},{"s":"Average Algonquin class","w":1670,"e":0.99},{"s":"Average Algonquin class","w":1662,"e":0.997},{"s":"Average Algonquin class","w":1655,"e":0.992},{"s":"Average Algonquin class","w":1648,"e":0.998},{"s":"Average Algonquin class","w":1640,"e":0.993},{"s":"Average Algonquin class","w":1633,"e":0.996},{"s":"Average Algonquin class","w":1628,"e":0.993},{"s":"Average Algonquin class","w":1618,"e":0.988},{"s":"Average Algonquin class","w":1609,"e":0.9847},{"s":"Average Algonquin class","w":1600,"e":0.983},{"s":"Average Algonquin class","w":1596,"e":0.9816},{"s":"Average Algonquin class","w":1588,"e":0.986},{"s":"Average Algonquin class","w":1580,"e":0.988},{"s":"Average Algonquin class","w":1572,"e":0.99},{"s":"Average Algonquin class","w":1566,"e":0.9909},{"s":"Average Algonquin class","w":1556,"e":0.99},{"s":"Average Algonquin class","w":1550,"e":0.9885},{"s":"Average Algonquin class","w":1544,"e":0.9904},{"s":"Average Algonquin class","w":1537,"e":0.988},{"s":"Average Algonquin class","w":1531,"e":0.9863},{"s":"Average Algonquin class","w":1522,"e":0.988},{"s":"Average Algonquin class","w":1513,"e":0.9884},{"s":"Average Algonquin class","w":1505,"e":0.987},{"s":"Average Algonquin class","w":1496,"e":0.9888},{"s":"Average Algonquin class","w":1488,"e":0.987},{"s":"Average Algonquin class","w":1479,"e":0.989},{"s":"Average Algonquin class","w":1470,"e":0.987},{"s":"Average Algonquin class","w":1461,"e":0.9888},{"s":"Average Algonquin class","w":1452,"e":0.987},{"s":"Average Algonquin class","w":1444,"e":0.9885},{"s":"Average Algonquin class","w":1435,"e":0.987},{"s":"Average Algonquin class","w":1426,"e":0.989},{"s":"Average Algonquin class","w":1418,"e":0.987},{"s":"Average Algonquin class","w":1408,"e":0.9895},{"s":"Average Algonquin class","w":1400,"e":0.99},{"s":"Average Algonquin class","w":1392,"e":0.9904},{"s":"Average Algonquin class","w":1382,"e":0.991},{"s":"Average Algonquin class","w":1374,"e":0.992},{"s":"Average Algonquin class","w":1365,"e":0.9915},{"s":"Average Algonquin class","w":1356,"e":0.993},{"s":"Average Algonquin class","w":1347,"e":0.9925},{"s":"Average Algonquin class","w":1339,"e":0.994},{"s":"Average Algonquin class","w":1330,"e":0.9935},{"s":"Average Algonquin class","w":1321,"e":0.9945},{"s":"Average Algonquin class","w":1312,"e":0.9955},{"s":"Average Algonquin class","w":1304,"e":0.995},{"s":"Average Algonquin class","w":1295,"e":0.9965},{"s":"Average Algonquin class","w":1286,"e":0.996},{"s":"Average Algonquin class","w":1277,"e":0.9981},{"s":"Average Algonquin class","w":1268,"e":0.9975},{"s":"Average Algonquin class","w":1260,"e":0.9995},{"s":"Average Algonquin class","w":1251,"e":0.999},{"s":"Average Algonquin class","w":1242,"e":1.0},{"s":"Average Algonquin class","w":1234,"e":1.0004},{"s":"Average Algonquin class","w":1225,"e":0.9995},{"s":"Average Algonquin class","w":1216,"e":0.9997},{"s":"Average Algonquin class","w":1207,"e":0.998},{"s":"Average Algonquin class","w":1199,"e":0.9995},{"s":"Average Algonquin class","w":1190,"e":0.9985},{"s":"Average Algonquin class","w":1181,"e":0.9992},{"s":"Average Algonquin class","w":1172,"e":0.998},{"s":"Average Algonquin class","w":1164,"e":0.9992},{"s":"Average Algonquin class","w":1155,"e":0.998},{"s":"Average Algonquin class","w":1146,"e":0.9976},{"s":"Average Algonquin class","w":1138,"e":0.9961},{"s":"Average Algonquin class","w":1129,"e":0.9965},{"s":"Average Algonquin class","w":1120,"e":0.995},{"s":"Average Algonquin class","w":1112,"e":0.9955},{"s":"Average Algonquin class","w":1103,"e":0.9945},{"s":"Average Algonquin class","w":1085,"e":0.993},{"s":"Average Algonquin class","w":1068,"e":0.991},{"s":"Average Algonquin class","w":1059,"e":0.9899},{"s":"Average Algonquin class","w":1042,"e":0.988},{"s":"Average Algonquin class","w":1024,"e":0.986},{"s":"Average Algonquin class","w":1015,"e":0.9847},{"s":"Average Algonquin class","w":1007,"e":0.983},{"s":"Average Algonquin class","w":998,"e":0.9795},{"s":"Average Algonquin class","w":991,"e":0.977},{"s":"Average Algonquin class","w":985,"e":0.9744},{"s":"Average Algonquin class","w":976,"e":0.97},{"s":"Average Algonquin class","w":967,"e":0.966},{"s":"Average Algonquin class","w":960,"e":0.962},{"s":"Average Algonquin class","w":954,"e":0.9578},{"s":"Average Algonquin class","w":946,"e":0.9444},{"s":"Average Algonquin class","w":937,"e":0.9382},{"s":"Average Algonquin class","w":928,"e":0.933},{"s":"Average Algonquin class","w":920,"e":0.9283},{"s":"Average Algonquin class","w":911,"e":0.927},{"s":"Average Algonquin class","w":904,"e":0.926},{"s":"Average Algonquin class","w":897,"e":0.9254},{"s":"Average Algonquin class","w":889,"e":0.926},{"s":"Average Algonquin class","w":881,"e":0.9266},{"s":"Average Algonquin class","w":871,"e":0.932},{"s":"Average Algonquin class","w":863,"e":0.938},{"s":"Average Algonquin class","w":858,"e":0.9434},{"s":"Average Algonquin class","w":849,"e":0.947},{"s":"Average Algonquin class","w":841,"e":0.95},{"s":"Average Algonquin class","w":832,"e":0.95},{"s":"Average Algonquin class","w":823,"e":0.95},{"s":"Average Algonquin class","w":815,"e":0.953},{"s":"Average Algonquin class","w":806,"e":0.9558},{"s":"Average Algonquin class","w":797,"e":0.959},{"s":"Average Algonquin class","w":788,"e":0.963},{"s":"Average Algonquin class","w":780,"e":0.967},{"s":"Average Algonquin class","w":771,"e":0.9713},{"s":"Average Algonquin class","w":762,"e":0.976},{"s":"Average Algonquin class","w":753,"e":0.9816},{"s":"Average Algonquin class","w":745,"e":0.987},{"s":"Average Algonquin class","w":736,"e":0.9919},{"s":"Average Algonquin class","w":727,"e":0.995},{"s":"Average Algonquin class","w":714,"e":0.9971},{"s":"Average Algonquin class","w":706,"e":1.0},{"s":"Average Algonquin class","w":697,"e":1.0024},{"s":"Average Algonquin class","w":690,"e":1.006},{"s":"Average Algonquin class","w":683,"e":1.012},{"s":"Average Algonquin class","w":675,"e":1.02},{"s":"Average Algonquin class","w":650,"e":1.02},{"s":"Average Algonquin class","w":640,"e":1.013},{"s":"Average Algonquin class","w":631,"e":1.007},{"s":"Average Algonquin class","w":622,"e":1.0023},{"s":"Average Algonquin class","w":614,"e":0.998},{"s":"Average Algonquin class","w":605,"e":0.995},{"s":"Average Algonquin class","w":596,"e":0.99},{"s":"Average Algonquin class","w":588,"e":0.986},{"s":"Average Algonquin class","w":579,"e":0.9816},{"s":"Average Algonquin class","w":570,"e":0.973},{"s":"Average Algonquin class","w":561,"e":0.964},{"s":"Average Algonquin class","w":552,"e":0.955},{"s":"Average Algonquin class","w":544,"e":0.9475},{"s":"Average Algonquin class","w":535,"e":0.944},{"s":"Average Algonquin class","w":526,"e":0.942},{"s":"Average Algonquin class","w":517,"e":0.94},{"s":"Average Algonquin class","w":509,"e":0.937},{"s":"Average Algonquin class","w":505,"e":0.939},{"s":"Average Algonquin class","w":500,"e":0.941},{"s":"Average Algonquin class","w":491,"e":0.95},{"s":"Average Algonquin class","w":483,"e":0.957},{"s":"Average Algonquin class","w":474,"e":0.961},{"s":"Average Algonquin class","w":465,"e":0.962},{"s":"Average Algonquin class","w":456,"e":0.962},{"s":"Average Algonquin class","w":448,"e":0.962},{"s":"Average Algonquin class","w":439,"e":0.961},{"s":"Average Algonquin class","w":430,"e":0.952},{"s":"Average Algonquin class","w":421,"e":0.943},{"s":"Average Algonquin class","w":412,"e":0.92},{"s":"Average Algonquin class","w":404,"e":0.897},{"s":"Average Algonquin class","w":398,"e":0.893},{"s":"Average Algonquin class","w":392,"e":0.905},{"s":"Average Algonquin class","w":385,"e":0.912},{"s":"Average Algonquin class","w":378,"e":0.915},{"s":"Average Algonquin class","w":374,"e":0.915},
{"s":"Mg–Fe carbonate","w":1800,"e":0.9993},{"s":"Mg–Fe carbonate","w":1780,"e":0.9995},{"s":"Mg–Fe carbonate","w":1760,"e":0.9997},{"s":"Mg–Fe carbonate","w":1740,"e":0.9998},{"s":"Mg–Fe carbonate","w":1720,"e":1.0},{"s":"Mg–Fe carbonate","w":1700,"e":1.0001},{"s":"Mg–Fe carbonate","w":1680,"e":1.0002},{"s":"Mg–Fe carbonate","w":1660,"e":1.0002},{"s":"Mg–Fe carbonate","w":1640,"e":1.0002},{"s":"Mg–Fe carbonate","w":1628,"e":1.0},{"s":"Mg–Fe carbonate","w":1622,"e":0.999},{"s":"Mg–Fe carbonate","w":1610,"e":0.994},{"s":"Mg–Fe carbonate","w":1600,"e":0.988},{"s":"Mg–Fe carbonate","w":1592,"e":0.9847},{"s":"Mg–Fe carbonate","w":1580,"e":0.973},{"s":"Mg–Fe carbonate","w":1566,"e":0.961},{"s":"Mg–Fe carbonate","w":1555,"e":0.958},{"s":"Mg–Fe carbonate","w":1546,"e":0.9575},{"s":"Mg–Fe carbonate","w":1535,"e":0.9595},{"s":"Mg–Fe carbonate","w":1525,"e":0.962},{"s":"Mg–Fe carbonate","w":1513,"e":0.9652},{"s":"Mg–Fe carbonate","w":1497,"e":0.9714},{"s":"Mg–Fe carbonate","w":1484,"e":0.975},{"s":"Mg–Fe carbonate","w":1470,"e":0.9776},{"s":"Mg–Fe carbonate","w":1457,"e":0.979},{"s":"Mg–Fe carbonate","w":1444,"e":0.9795},{"s":"Mg–Fe carbonate","w":1430,"e":0.98},{"s":"Mg–Fe carbonate","w":1418,"e":0.9807},{"s":"Mg–Fe carbonate","w":1408,"e":0.9825},{"s":"Mg–Fe carbonate","w":1400,"e":0.9847},{"s":"Mg–Fe carbonate","w":1390,"e":0.9875},{"s":"Mg–Fe carbonate","w":1382,"e":0.9894},{"s":"Mg–Fe carbonate","w":1370,"e":0.9908},{"s":"Mg–Fe carbonate","w":1356,"e":0.9918},{"s":"Mg–Fe carbonate","w":1340,"e":0.9928},{"s":"Mg–Fe carbonate","w":1321,"e":0.9935},{"s":"Mg–Fe carbonate","w":1300,"e":0.994},{"s":"Mg–Fe carbonate","w":1277,"e":0.9945},{"s":"Mg–Fe carbonate","w":1250,"e":0.995},{"s":"Mg–Fe carbonate","w":1220,"e":0.9953},{"s":"Mg–Fe carbonate","w":1190,"e":0.9956},{"s":"Mg–Fe carbonate","w":1150,"e":0.9958},{"s":"Mg–Fe carbonate","w":1112,"e":0.9961},{"s":"Mg–Fe carbonate","w":1050,"e":0.9965},{"s":"Mg–Fe carbonate","w":1000,"e":0.9968},{"s":"Mg–Fe carbonate","w":950,"e":0.9972},{"s":"Mg–Fe carbonate","w":911,"e":0.9976},{"s":"Mg–Fe carbonate","w":902,"e":0.9972},{"s":"Mg–Fe carbonate","w":895,"e":0.992},{"s":"Mg–Fe carbonate","w":890,"e":0.986},{"s":"Mg–Fe carbonate","w":886,"e":0.9821},{"s":"Mg–Fe carbonate","w":880,"e":0.987},{"s":"Mg–Fe carbonate","w":874,"e":0.992},{"s":"Mg–Fe carbonate","w":867,"e":0.995},{"s":"Mg–Fe carbonate","w":855,"e":0.9963},{"s":"Mg–Fe carbonate","w":841,"e":0.9971},{"s":"Mg–Fe carbonate","w":806,"e":0.9976},{"s":"Mg–Fe carbonate","w":780,"e":0.998},{"s":"Mg–Fe carbonate","w":760,"e":0.9985},{"s":"Mg–Fe carbonate","w":749,"e":0.9987},{"s":"Mg–Fe carbonate","w":742,"e":0.998},{"s":"Mg–Fe carbonate","w":737,"e":0.9961},{"s":"Mg–Fe carbonate","w":730,"e":0.9965},{"s":"Mg–Fe carbonate","w":718,"e":0.9971},{"s":"Mg–Fe carbonate","w":690,"e":0.9974},{"s":"Mg–Fe carbonate","w":666,"e":0.9976},{"s":"Mg–Fe carbonate","w":620,"e":0.998},{"s":"Mg–Fe carbonate","w":579,"e":0.9987},{"s":"Mg–Fe carbonate","w":540,"e":0.9992},{"s":"Mg–Fe carbonate","w":509,"e":0.9995},{"s":"Mg–Fe carbonate","w":490,"e":0.9997},{"s":"Mg–Fe carbonate","w":474,"e":1.0},{"s":"Mg–Fe carbonate","w":465,"e":0.9998},{"s":"Mg–Fe carbonate","w":456,"e":0.9992},{"s":"Mg–Fe carbonate","w":448,"e":0.997},{"s":"Mg–Fe carbonate","w":439,"e":0.993},{"s":"Mg–Fe carbonate","w":430,"e":0.987},{"s":"Mg–Fe carbonate","w":421,"e":0.9806},{"s":"Mg–Fe carbonate","w":414,"e":0.977},{"s":"Mg–Fe carbonate","w":408,"e":0.9754},{"s":"Mg–Fe carbonate","w":395,"e":0.9748},{"s":"Mg–Fe carbonate","w":385,"e":0.9745},{"s":"Mg–Fe carbonate","w":374,"e":0.9744}
]},
"layer": [
{
  "data": {"values": [{}]},
  "mark": {"type": "rule", "color": "#b4b4b4", "strokeWidth": 1.2},
  "encoding": {
    "x": {"datum": 507, "type": "quantitative",
      "axis": {"orient": "top", "title": "Wavelength (μm)", "titlePadding": 12, "ticks": false, "domain": false,
        "values": [1666.6667,1428.5714,1250.0001,1111.1111,1000.0001,833.3333,666.6667,500.0001],
        "labelExpr": "'' + round(10000 / datum.value)",
        "labelPadding": 3, "labelBaseline": "alphabetic"}
    }
  }
},
{
  "transform": [{"filter": {"field": "s", "oneOf": ["Ditsakana","Kewatsana","Saupitty","Taabe","Tenawa"]}}],
  "mark": {"type": "line", "strokeWidth": 1.3, "clip": true},
  "encoding": {
    "x": {"field": "w", "type": "quantitative",
      "scale": {"domain": [374, 1800], "reverse": true, "nice": false, "zero": false},
      "axis": {"orient": "bottom", "title": "Wavenumber (cm⁻¹)", "titleBaseline": "alphabetic", "titleY": 33, "format": "d",
        "values": [1800,1600,1400,1200,1000,800,600,400], "tickSize": -12, "labelPadding": 17}
    },
    "y": {"field": "e", "type": "quantitative",
      "scale": {"domain": [0.9, 1.0105], "nice": false, "zero": false},
      "axis": {"orient": "left", "title": "Emissivity", "titleFontSize": 10.5, "titlePadding": 9, "titleY": 193,
        "values": [0.9,0.92,0.94,0.96,0.98,1.0], "format": ".2f", "tickSize": -13, "labelPadding": 19}
    },
    "color": {"field": "s", "type": "nominal",
      "scale": {"domain": ["Ditsakana","Kewatsana","Saupitty","Taabe","Tenawa","Average Algonquin class","Mg–Fe carbonate"],
                "range": ["#000000","#ff2a14","#18c818","#2040ff","#a040e0","#ff40ff","#a0602d"]},
      "legend": {"orient": "none", "legendX": 152, "legendY": 226, "title": null,
        "symbolSize": 0, "symbolStrokeWidth": 0, "symbolOpacity": 0, "labelOffset": 0,
        "labelFont": "DejaVu Sans", "labelFontSize": 14.5, "labelLimit": 400, "rowPadding": 1.8, "padding": 0,
        "labelColor": {"expr": "scale('color', datum.value)"}}
    }
  }
},
{
  "transform": [{"filter": {"field": "s", "equal": "Average Algonquin class"}}],
  "mark": {"type": "line", "strokeWidth": 1.3, "clip": true},
  "encoding": {
    "x": {"field": "w", "type": "quantitative",
      "axis": {"orient": "bottom", "title": null, "labels": false, "domain": false, "tickSize": -6,
        "values": [1750,1700,1650,1550,1500,1450,1350,1300,1250,1150,1100,1050,950,900,850,750,700,650,550,500,450]}
    },
    "y": {"field": "e", "type": "quantitative",
      "axis": {"orient": "left", "title": null, "labels": false, "domain": false, "tickSize": -6,
        "values": [0.905,0.91,0.915,0.925,0.93,0.935,0.945,0.95,0.955,0.965,0.97,0.975,0.985,0.99,0.995,1.005,1.01]}
    },
    "color": {"field": "s", "type": "nominal",
      "legend": {"orient": "none", "legendX": 152, "legendY": 226, "title": null,
        "symbolSize": 0, "symbolStrokeWidth": 0, "symbolOpacity": 0, "labelOffset": 0,
        "labelFont": "DejaVu Sans", "labelFontSize": 14.5, "labelLimit": 400, "rowPadding": 1.8, "padding": 0,
        "labelColor": {"expr": "scale('color', datum.value)"}}
    }
  }
},
{
  "transform": [{"filter": {"field": "s", "equal": "Mg–Fe carbonate"}}],
  "mark": {"type": "line", "strokeWidth": 1.3, "clip": true},
  "encoding": {
    "x": {"field": "w", "type": "quantitative",
      "axis": {"orient": "top", "title": null, "labels": false, "tickSize": -13,
        "values": [1800,1600,1400,1200,1000,800,600,400]}
    },
    "y": {"field": "e", "type": "quantitative",
      "axis": {"orient": "right", "title": null, "labels": false, "tickSize": -13,
        "values": [0.9,0.92,0.94,0.96,0.98,1.0]}
    },
    "color": {"field": "s", "type": "nominal",
      "legend": {"orient": "none", "legendX": 152, "legendY": 226, "title": null,
        "symbolSize": 0, "symbolStrokeWidth": 0, "symbolOpacity": 0, "labelOffset": 0,
        "labelFont": "DejaVu Sans", "labelFontSize": 14.5, "labelLimit": 400, "rowPadding": 1.8, "padding": 0,
        "labelColor": {"expr": "scale('color', datum.value)"}}
    }
  }
},
{
  "data": {"values": [{}]},
  "mark": {"type": "text", "font": "DejaVu Sans", "fontSize": 13, "color": "black"},
  "encoding": {
    "x": {"datum": 666, "type": "quantitative",
      "axis": {"orient": "top", "title": null, "labels": false, "domain": false, "tickSize": -6,
        "values": [1750,1700,1650,1550,1500,1450,1350,1300,1250,1150,1100,1050,950,900,850,750,700,650,550,500,450]}
    },
    "y": {"datum": 0.9558, "type": "quantitative",
      "axis": {"orient": "right", "title": null, "labels": false, "domain": false, "tickSize": -6,
        "values": [0.905,0.91,0.915,0.925,0.93,0.935,0.945,0.95,0.955,0.965,0.97,0.975,0.985,0.99,0.995,1.005,1.01]}
    },
    "text": {"value": "CO₂"}
  }
}
]
}
